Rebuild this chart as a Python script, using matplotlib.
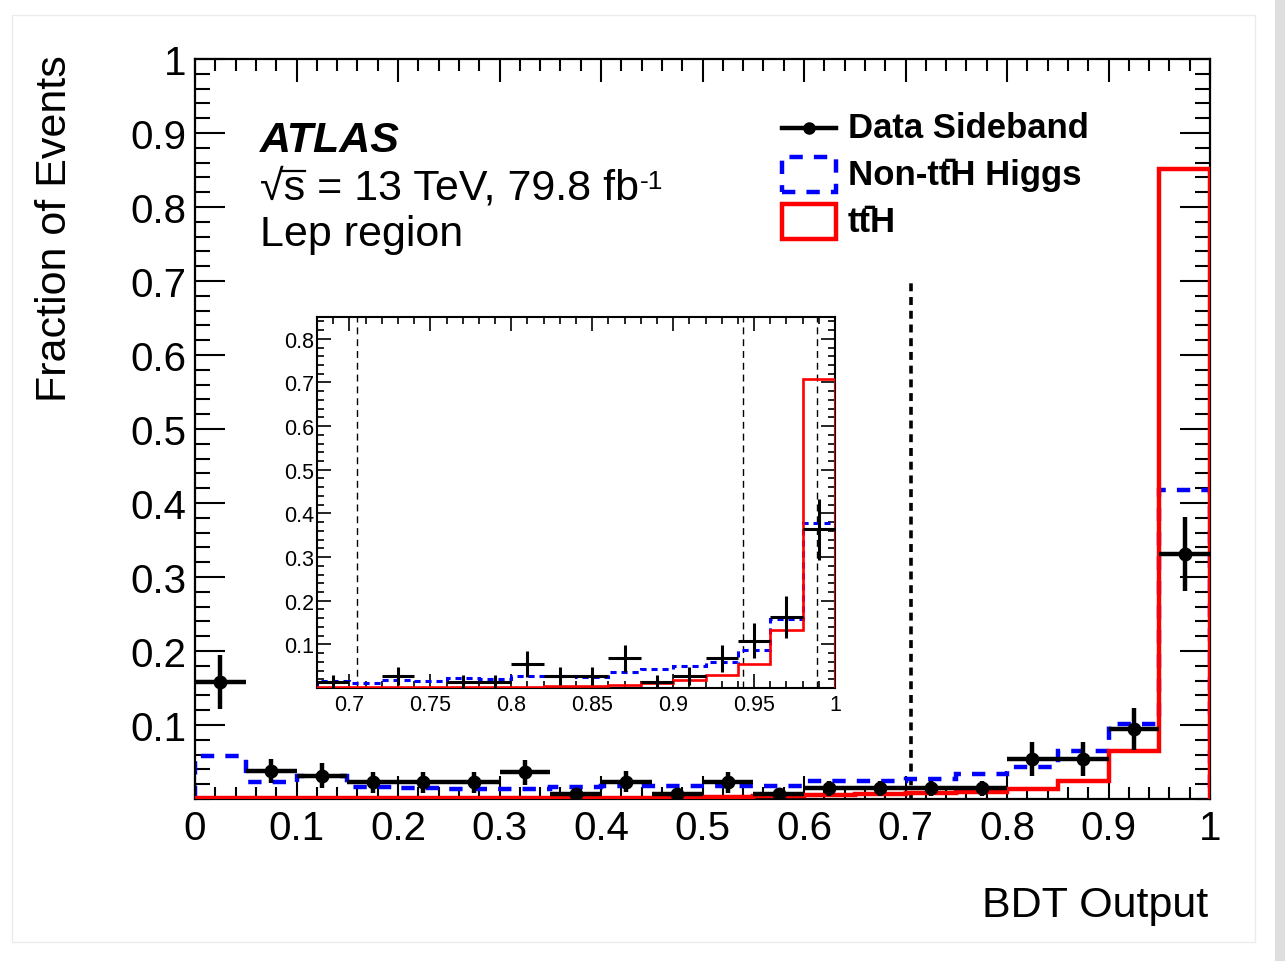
import matplotlib
matplotlib.use("Agg")
import matplotlib.pyplot as plt
import numpy as np
from matplotlib.patches import Rectangle
from matplotlib.ticker import MultipleLocator

plt.rcParams['font.family'] = ['Liberation Sans', 'DejaVu Sans']

# Full BDT range, 20 bins of 0.05
main_edges = np.linspace(0.0, 1.0, 21)
main_centers = [0.025, 0.075, 0.125, 0.175, 0.225, 0.275, 0.325, 0.375, 0.425, 0.475,
                0.525, 0.575, 0.625, 0.675, 0.725, 0.775, 0.825, 0.875, 0.925, 0.975]
tth_main = [0.001, 0.001, 0.001, 0.001, 0.001, 0.001, 0.001, 0.0015, 0.002, 0.002,
            0.0023, 0.0036, 0.005, 0.0063, 0.0077, 0.0095, 0.0135, 0.0248, 0.065, 0.851]
nontth_main = [0.0585, 0.0225, 0.031, 0.016, 0.015, 0.014, 0.014, 0.0158, 0.017, 0.018,
               0.018, 0.018, 0.0248, 0.0248, 0.027, 0.0338, 0.043, 0.065, 0.101, 0.418]
data_main = [0.158, 0.038, 0.0315, 0.0225, 0.0225, 0.0225, 0.036, 0.0068, 0.0234, 0.0068,
             0.0225, 0.0068, 0.0144, 0.0144, 0.0144, 0.0144, 0.054, 0.054, 0.0946, 0.331]
data_main_err = [0.037, 0.016, 0.017, 0.014, 0.014, 0.014, 0.017, 0.007, 0.014, 0.007,
                 0.014, 0.007, 0.010, 0.010, 0.010, 0.010, 0.0225, 0.0225, 0.029, 0.05]
main_xticks = [0.0, 0.1, 0.2, 0.3, 0.4, 0.5, 0.6, 0.7, 0.8, 0.9, 1.0]
main_xlabels = ['0', '0.1', '0.2', '0.3', '0.4', '0.5', '0.6', '0.7', '0.8', '0.9', '1']
main_yticks = [0.1, 0.2, 0.3, 0.4, 0.5, 0.6, 0.7, 0.8, 0.9, 1.0]
main_ylabels = ['0.1', '0.2', '0.3', '0.4', '0.5', '0.6', '0.7', '0.8', '0.9', '1']

# Zoomed high-score region, 16 bins of 0.02
inset_edges = np.linspace(0.68, 1.0, 17)
tth_inset = [0.0015, 0.0015, 0.0015, 0.0015, 0.0015, 0.0015, 0.0015, 0.005,
             0.005, 0.008, 0.011, 0.019, 0.029, 0.054, 0.134, 0.707]
nontth_inset = [0.0168, 0.012, 0.018, 0.0168, 0.022, 0.020, 0.0275, 0.0275,
                0.026, 0.037, 0.043, 0.050, 0.060, 0.087, 0.157, 0.379]
data_inset_x = [0.69, 0.73, 0.77, 0.79, 0.81, 0.83, 0.85, 0.87, 0.89, 0.91, 0.93, 0.95, 0.97, 0.99]
data_inset = [0.0145, 0.028, 0.0145, 0.0145, 0.055, 0.028, 0.028, 0.068,
              0.0145, 0.027, 0.068, 0.108, 0.163, 0.364]
data_inset_err = [0.0145, 0.021, 0.0145, 0.0145, 0.029, 0.021, 0.021, 0.031,
                  0.0145, 0.020, 0.031, 0.040, 0.048, 0.070]
inset_cuts = [0.705, 0.943, 0.989]
inset_xticks = [0.7, 0.75, 0.8, 0.85, 0.9, 0.95, 1.0]
inset_xlabels = ['0.7', '0.75', '0.8', '0.85', '0.9', '0.95', '1']
inset_yticks = [0.1, 0.2, 0.3, 0.4, 0.5, 0.6, 0.7, 0.8]
inset_ylabels = ['0.1', '0.2', '0.3', '0.4', '0.5', '0.6', '0.7', '0.8']

TTBAR = 't\u0074\u0304'  # t t-bar, combining macron over the second t

W, H = 1285, 962
fig = plt.figure(figsize=(W / 100, H / 100), dpi=100)

# faint page frame and side strip
fig.patches.append(Rectangle((12 / W, 1 - 943 / H), 1243 / W, 927 / H, transform=fig.transFigure,
                             fill=False, ec='#ebebeb', lw=1.0))
fig.patches.append(Rectangle((1275 / W, 0), 10 / W, 1, transform=fig.transFigure,
                             fc='#dedede', ec='none'))

ax = fig.add_axes([195 / W, 1 - 800 / H, 1015 / W, 740 / H])
ax.stairs(nontth_main, main_edges, color='#0000ff', lw=3.2, linestyle=(0, (3, 2.5)), zorder=2)
ax.stairs(tth_main, main_edges, color='#ff0000', lw=3.2, zorder=3)
ax.errorbar(main_centers, data_main, xerr=0.025, yerr=data_main_err, fmt='o', color='k',
            ms=9, elinewidth=3.2, capsize=0, zorder=4)
ax.plot([0.705, 0.705], [0, 0.7], color='k', lw=2.6, linestyle=(0, (2.2, 1.6)), zorder=1)

ax.set_xlim(0, 1)
ax.set_ylim(0, 1)
ax.set_xticks(main_xticks, main_xlabels)
ax.set_yticks(main_yticks, main_ylabels)
ax.xaxis.set_minor_locator(MultipleLocator(0.02))
ax.yaxis.set_minor_locator(MultipleLocator(0.02))
ax.tick_params(axis='both', which='both', direction='in', top=True, right=True, width=1.5)
ax.tick_params(axis='x', which='major', length=16.5, labelsize=29, pad=7)
ax.tick_params(axis='x', which='minor', length=8.5)
ax.tick_params(axis='y', which='major', length=21.5, labelsize=29, pad=6)
ax.tick_params(axis='y', which='minor', length=10.8)
for s in ax.spines.values():
    s.set_linewidth(1.6)

fig.text(55 / W, 1 - 55 / H, 'Fraction of Events', rotation=90, ha='center', va='top', fontsize=31)
fig.text(1208 / W, 1 - 917 / H, 'BDT Output', ha='right', va='baseline', fontsize=31)

# experiment labels
ax.text(0.064, 0.876, 'ATLAS', transform=ax.transAxes, fontsize=31, fontweight='bold',
        fontstyle='italic', va='baseline')
lumi = ax.text(0.064, 0.811, '\u221as = 13 TeV, 79.8 fb', transform=ax.transAxes,
               fontsize=31, va='baseline')
ax.text(0.064, 0.748, 'Lep region', transform=ax.transAxes, fontsize=31, va='baseline')

# legend, drawn by hand in axes coordinates
hx0, hx1, tx = 0.578, 0.6315, 0.643
ax.plot([hx0, hx1], [0.907, 0.907], color='k', lw=3.2, transform=ax.transAxes, clip_on=False)
ax.plot([(hx0 + hx1) / 2], [0.907], 'o', color='k', ms=8, transform=ax.transAxes, clip_on=False)
ax.add_patch(Rectangle((hx0, 0.820), hx1 - hx0, 0.048, transform=ax.transAxes, fill=False,
                       ec='#0000ff', lw=3.2, linestyle=(0, (3, 2.5))))
ax.add_patch(Rectangle((hx0, 0.757), hx1 - hx0, 0.047, transform=ax.transAxes, fill=False,
                       ec='#ff0000', lw=3.2))
ax.text(tx, 0.894, 'Data Sideband', transform=ax.transAxes, fontsize=25, fontweight='bold', va='baseline')
ax.text(tx, 0.831, 'Non-' + TTBAR + 'H Higgs', transform=ax.transAxes, fontsize=25,
        fontweight='bold', va='baseline')
ax.text(tx, 0.768, TTBAR + 'H', transform=ax.transAxes, fontsize=25,
        fontweight='bold', va='baseline')

# inset: zoom on the high BDT region
ins = fig.add_axes([317 / W, 1 - 689 / H, 518 / W, 371 / H])
ins.set_facecolor('white')
ins.stairs(nontth_inset, inset_edges, color='#0000ff', lw=2.2, linestyle=(0, (2, 1.6)), zorder=2)
ins.stairs(tth_inset, inset_edges, color='#ff0000', lw=1.9, zorder=3)
ins.errorbar(data_inset_x, data_inset, xerr=0.01, yerr=data_inset_err, fmt='none', ecolor='k',
             elinewidth=2.2, capsize=0, zorder=4)
for c in inset_cuts:
    ins.axvline(c, color='k', lw=1.0, linestyle=(0, (5, 3.5)), zorder=1)
ins.set_xlim(0.68, 1.0)
ins.set_ylim(0, 0.85)
ins.set_xticks(inset_xticks, inset_xlabels)
ins.set_yticks(inset_yticks, inset_ylabels)
ins.xaxis.set_minor_locator(MultipleLocator(0.01))
ins.yaxis.set_minor_locator(MultipleLocator(0.02))
ins.tick_params(axis='both', which='both', direction='in', top=True, right=True, width=1.2)
ins.tick_params(axis='both', which='major', length=10, labelsize=15.5)
ins.tick_params(axis='both', which='minor', length=5)
ins.tick_params(axis='x', which='major', pad=4)
ins.tick_params(axis='y', which='major', pad=2)
for s in ins.spines.values():
    s.set_linewidth(1.5)

# radical bar over the s and the superscript of the luminosity unit
fig.canvas.draw()
bb = lumi.get_window_extent()
rad = ax.text(0.064, 0.811, '\u221a', transform=ax.transAxes, fontsize=31, va='baseline', alpha=0)
fig.canvas.draw()
rb = rad.get_window_extent()
s_w = 0.5 * 31 * 100 / 72  # advance of 's' in Liberation Sans, pixels
bar_y = (rb.y1 - 3) / H
fig.add_artist(plt.Line2D([(rb.x1 - 2) / W, (rb.x1 + s_w) / W], [bar_y, bar_y],
                          transform=fig.transFigure, color='k', lw=1.6))
fig.text((bb.x1 + 1) / W, (bb.y0 + 0.5 * bb.height) / H, '-1', fontsize=19, va='baseline')

fig.savefig('out.png', dpi=100)
